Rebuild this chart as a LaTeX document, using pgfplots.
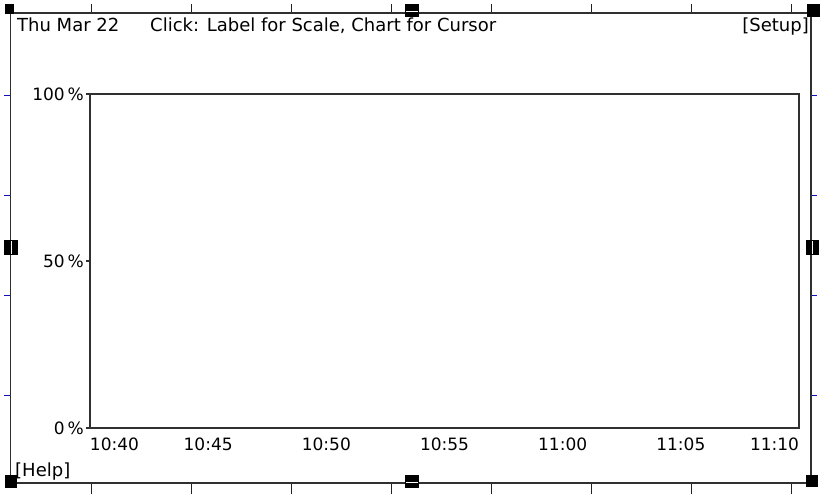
\documentclass[border=0pt]{standalone}
\usepackage{fontspec}
\setmainfont{DejaVu Sans}
\usepackage{pgfplots}
\pgfplotsset{compat=1.18}
\definecolor{framegray}{HTML}{303030}
\definecolor{tickblue}{HTML}{1010B8}
\begin{document}
\fontsize{18}{21}\selectfont
\begin{tikzpicture}[x=1pt,y=-1pt]
\useasboundingbox (0,0) rectangle (820,494);
% the chart area
\begin{axis}[
    at={(90pt,-428pt)}, anchor=south west,
    scale only axis, width=709pt, height=334pt,
    xmin=0, xmax=30, ymin=0, ymax=100,
    xtick={0,5,...,30},
    xticklabels={\makebox[0pt][l]{10:40},10:45,10:50,10:55,11:00,11:05,\makebox[0pt][r]{11:10}},
    ytick={0,50,100},
    yticklabels={0\,\%,50\,\%,100\,\%},
    tick pos=left,
    tick align=outside, major tick length=4pt,
    xtick style={draw=none},
    ytick style={framegray, line width=1.2pt},
    axis line style={framegray, line width=1.8pt},
    ticklabel style={font=\fontsize{17}{20}\selectfont},
    yticklabel style={inner sep=2pt},
    /pgf/number format/assume math mode=true,
]
\addplot[draw=none] coordinates {(0,0)(30,100)};
\end{axis}
% outer frame
\draw[framegray, line width=1.8pt] (10.5,13) rectangle (811,483);
% blue scale ticks round the frame
\foreach \i in {91.5,191.5,...,791.5} {
  \draw[tickblue, line width=1.6pt] (\i,4) -- (\i,12);
  \draw[tickblue, line width=1.6pt] (\i,484) -- (\i,494);
}
\foreach \j in {95.5,195.5,295.5,395.5} {
  \draw[tickblue, line width=1.6pt] (4,\j) -- (10,\j);
  \draw[tickblue, line width=1.6pt] (812,\j) -- (817,\j);
}
% selection handles
\fill[black] (5,4) rectangle (14,14);
\fill[black] (807,4) rectangle (820,17);
\fill[black] (5,475) rectangle (17,488);
\fill[black] (806,475) rectangle (818,487);
\fill[black] (405,4) rectangle (419,17);
\draw[white, line width=1pt] (406,12) -- (418,12);
\fill[black] (405,475) rectangle (419,488);
\draw[white, line width=1pt] (406,482) -- (418,482);
\fill[black] (4,240) rectangle (18,255);
\draw[white, line width=1pt] (11,241) -- (11,254);
\fill[black] (806,240) rectangle (819,255);
\draw[white, line width=1pt] (812,241) -- (812,254);
% header and footer texts
\node[anchor=base west, inner sep=0pt] at (17,32) {Thu Mar 22};
\node[anchor=base west, inner sep=0pt] at (150,32) {Click: Label for Scale, Chart for Cursor};
\node[anchor=base east, inner sep=0pt] at (809,32) {[Setup]};
\node[anchor=base west, inner sep=0pt] at (15,476) {[Help]};
\end{tikzpicture}
\end{document}
